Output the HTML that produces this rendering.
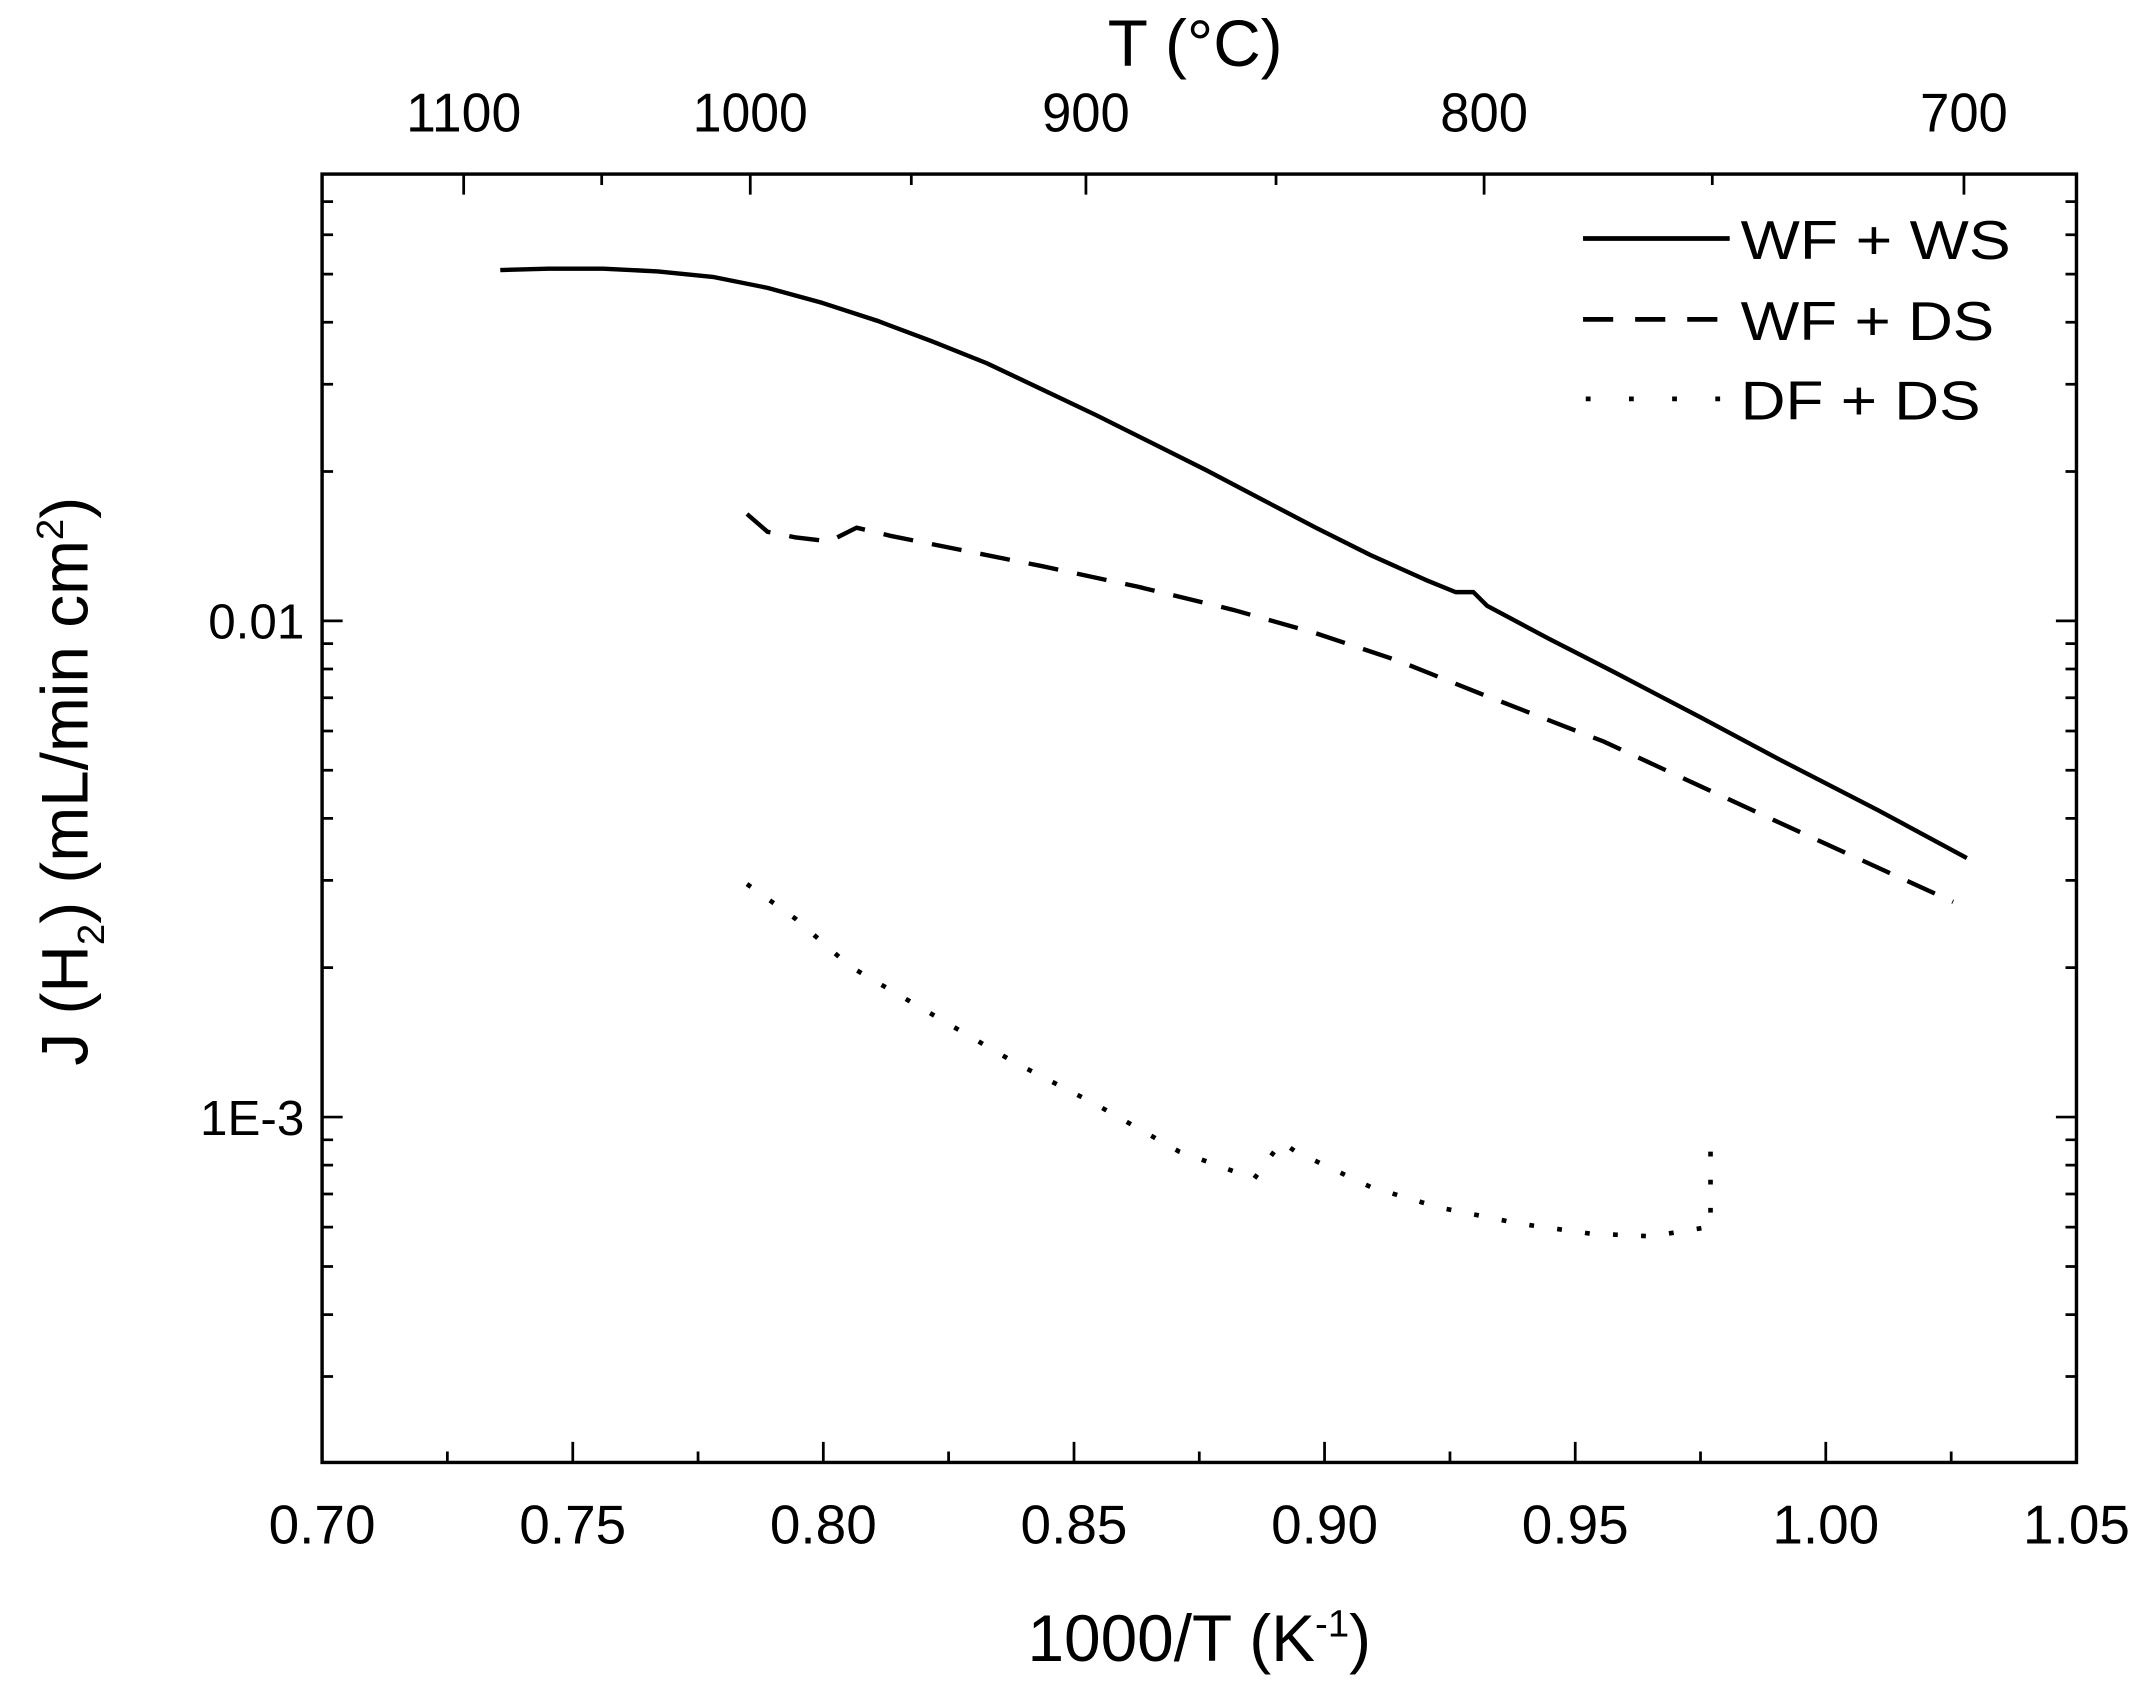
<!DOCTYPE html>
<html><head><meta charset="utf-8"><style>html,body{margin:0;padding:0;background:#fff}svg{display:block}</style></head>
<body>
<svg width="2145" height="1700" viewBox="0 0 1565 1240.3" xmlns="http://www.w3.org/2000/svg" font-family="Liberation Sans, Arial, sans-serif">
<rect width="1565" height="1240.3" fill="#fff"/>
<g stroke="#000" fill="none">
<rect x="235" y="127" width="1280" height="940" stroke-width="2.5"/>
<path stroke-width="2" d="M235 1067v-15M417.9 1067v-15M600.7 1067v-15M783.6 1067v-15M966.4 1067v-15M1149.3 1067v-15M1332.1 1067v-15M1515 1067v-15
M326.4 1067v-8M509.3 1067v-8M692.1 1067v-8M875 1067v-8M1057.9 1067v-8M1240.7 1067v-8M1423.6 1067v-8"/>
<path stroke-width="2" d="M338.3 127v15M547.4 127v15M792.3 127v15M1082.8 127v15M1432.9 127v15M439 127v8M664.9 127v8M931 127v8M1249.3 127v8"/>
<path stroke-width="2" d="M235 453h15M235 815h15M1515 453h-15M1515 815h-15
M235 706h8M235 642.3h8M235 597.1h8M235 562h8M235 533.3h8M235 509.1h8M235 488.1h8M235 469.6h8
M235 344h8M235 280.3h8M235 235.1h8M235 200h8M235 171.3h8M235 147.1h8
M235 1004.3h8M235 959.1h8M235 924h8M235 895.3h8M235 871.1h8M235 850.1h8M235 831.6h8
M1515 706h-8M1515 642.3h-8M1515 597.1h-8M1515 562h-8M1515 533.3h-8M1515 509.1h-8M1515 488.1h-8M1515 469.6h-8
M1515 344h-8M1515 280.3h-8M1515 235.1h-8M1515 200h-8M1515 171.3h-8M1515 147.1h-8
M1515 1004.3h-8M1515 959.1h-8M1515 924h-8M1515 895.3h-8M1515 871.1h-8M1515 850.1h-8M1515 831.6h-8"/>
<path stroke-width="3.2" stroke-linejoin="round" d="M365 197 L400 196 L440 196 L480 198 L520 202 L560 210 L600 221 L640 234 L680 249 L720 265 L760 284 L800 303 L840 323 L880 343 L920 364 L960 385 L1000 405 L1040 423 L1062 432 L1075 432 L1085 442 L1130 466 L1177 490 L1240 523 L1300 555 L1370 591 L1435 626"/>
<path stroke-width="3.2" stroke-dasharray="22,14" d="M545 375 L560 388 L580 392 L605 395 L625 385 L650 391 L700 401 L760 413 L830 428 L900 445 L960 462 L1020 482 L1080 506 L1170 541 L1300 601 L1425 658"/>
<path stroke-width="3.4" stroke-dasharray="3.5,17" d="M545 645 L580 670 L620 705 L680 740 L740 775 L800 806 L860 840 L915 860 L935 833 L945 840 L1000 866 L1050 881 L1110 893 L1160 900 L1205 902 L1248 895 L1248 836"/>
<line x1="1155" y1="174" x2="1262" y2="174" stroke-width="3.5"/>
<line x1="1155" y1="233" x2="1262" y2="233" stroke-width="3.5" stroke-dasharray="22,16"/>
<line x1="1157" y1="291" x2="1262" y2="291" stroke-width="3.5" stroke-dasharray="3.5,28"/>
</g>
<g fill="#000" font-size="40">
<text x="1270" y="189" textLength="197" lengthAdjust="spacingAndGlyphs">WF + WS</text>
<text x="1270" y="248" textLength="185" lengthAdjust="spacingAndGlyphs">WF + DS</text>
<text x="1270" y="306" textLength="175" lengthAdjust="spacingAndGlyphs">DF + DS</text>
</g>
<g fill="#000" font-size="40" text-anchor="middle" lengthAdjust="spacingAndGlyphs">
<text x="235" y="1126" textLength="78" lengthAdjust="spacingAndGlyphs">0.70</text><text x="417.9" y="1126" textLength="78" lengthAdjust="spacingAndGlyphs">0.75</text><text x="600.7" y="1126" textLength="78" lengthAdjust="spacingAndGlyphs">0.80</text><text x="783.6" y="1126" textLength="78" lengthAdjust="spacingAndGlyphs">0.85</text><text x="966.4" y="1126" textLength="78" lengthAdjust="spacingAndGlyphs">0.90</text><text x="1149.3" y="1126" textLength="78" lengthAdjust="spacingAndGlyphs">0.95</text><text x="1332.1" y="1126" textLength="78" lengthAdjust="spacingAndGlyphs">1.00</text><text x="1515" y="1126" textLength="78" lengthAdjust="spacingAndGlyphs">1.05</text>
<text x="338.3" y="96" textLength="84" lengthAdjust="spacingAndGlyphs">1100</text><text x="547.4" y="96" textLength="84" lengthAdjust="spacingAndGlyphs">1000</text><text x="792.3" y="96" textLength="64" lengthAdjust="spacingAndGlyphs">900</text><text x="1082.8" y="96" textLength="64" lengthAdjust="spacingAndGlyphs">800</text><text x="1432.9" y="96" textLength="64" lengthAdjust="spacingAndGlyphs">700</text>
</g>
<g fill="#000" font-size="36" text-anchor="end">
<text x="222" y="466">0.01</text><text x="222" y="828">1E-3</text>
</g>
<text x="875" y="1212" font-size="48" text-anchor="middle">1000/T (K<tspan font-size="28" dy="-18">-1</tspan><tspan dy="18">)</tspan></text>
<text x="872" y="48" font-size="48" text-anchor="middle">T (°C)</text>
<text transform="translate(64,570) rotate(-90)" font-size="48" text-anchor="middle">J (H<tspan font-size="28" dy="12">2</tspan><tspan dy="-12">) (mL/min cm</tspan><tspan font-size="28" dy="-18">2</tspan><tspan dy="18">)</tspan></text>
</svg>
</body></html>
